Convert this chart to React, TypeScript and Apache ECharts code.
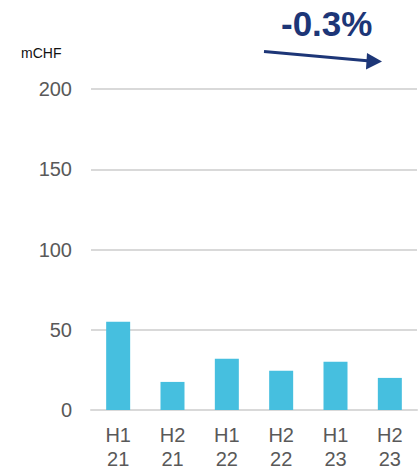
import React, { useEffect, useRef } from "react";
import * as echarts from "echarts";

const categories = ["H1\n21", "H2\n21", "H1\n22", "H2\n22", "H1\n23", "H2\n23"];
const values = [55, 17.5, 32, 24.5, 30, 20];
const unitLabel = "mCHF";
const changeLabel = "-0.3%";

export default function App() {
  const ref = useRef<HTMLDivElement>(null);
  useEffect(() => {
    if (!ref.current) return;
    const chart = echarts.init(ref.current, undefined, { renderer: "svg" });
    const font = "'Liberation Sans', Arial, sans-serif";
    const navy = "#1d3677";
    chart.setOption({
      animation: false,
      textStyle: { fontFamily: font },
      grid: { left: 91, right: 3, top: 89, bottom: 63, containLabel: false },
      xAxis: {
        type: "category",
        data: categories,
        axisLine: { show: true, lineStyle: { color: "#d9d9d9", width: 2 } },
        axisTick: { show: false },
        axisLabel: {
          color: "#595959",
          fontSize: 20,
          lineHeight: 24,
          margin: 13,
          fontFamily: font,
        },
      },
      yAxis: {
        type: "value",
        min: 0,
        max: 200,
        interval: 50,
        axisLine: { show: false },
        axisTick: { show: false },
        splitLine: { lineStyle: { color: "#d9d9d9", width: 2 } },
        axisLabel: { color: "#595959", fontSize: 20, margin: 19, fontFamily: font },
      },
      series: [
        {
          type: "bar",
          data: values,
          barWidth: 24,
          itemStyle: { color: "#46bfdf" },
        },
      ],
      graphic: [
        {
          type: "text",
          left: 21,
          top: 46,
          style: { text: unitLabel, fill: "#111111", fontSize: 14, fontFamily: font },
        },
        {
          type: "text",
          left: 281,
          top: 6,
          style: {
            text: changeLabel,
            fill: navy,
            fontSize: 35,
            fontWeight: "bold",
            fontFamily: font,
          },
        },
        {
          type: "line",
          shape: { x1: 264, y1: 51.5, x2: 370, y2: 61 },
          style: { stroke: navy, lineWidth: 3 },
        },
        {
          type: "polygon",
          shape: { points: [[367, 53], [382, 61.5], [366, 69.5]] },
          style: { fill: navy },
        },
      ],
    });
    return () => chart.dispose();
  }, []);
  return <div ref={ref} style={{ width: 420, height: 473, position: "absolute", left: 0, top: 0 }} />;
}
